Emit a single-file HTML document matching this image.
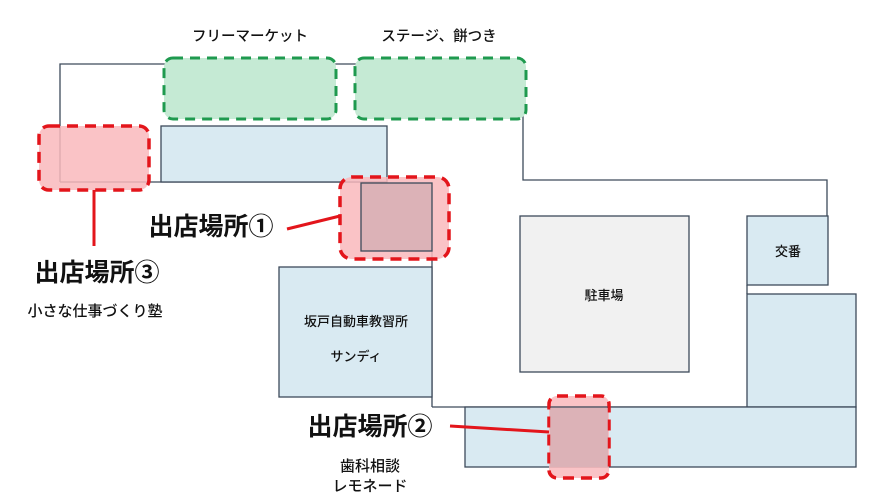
<!DOCTYPE html>
<html><head><meta charset="utf-8"><style>
html,body{margin:0;padding:0;background:#fff;width:889px;height:500px;overflow:hidden}
text{font-family:"Liberation Sans","Noto Sans CJK JP",sans-serif;fill:#111}
</style></head><body>
<svg width="889" height="500" viewBox="0 0 889 500" xmlns="http://www.w3.org/2000/svg">
<g stroke="#3d4a5a" stroke-width="1.3">
<polyline points="60,182 60,64 523,64 523,180 827,180 827,216" fill="none"/>
<line x1="60" y1="182" x2="387" y2="182"/>
<rect x="161" y="126" width="226" height="56" fill="#d9eaf2"/>
<line x1="432" y1="251" x2="432" y2="407"/>
<line x1="432" y1="407" x2="747" y2="407"/>
<line x1="747" y1="285" x2="747" y2="294"/>
<rect x="279" y="267" width="153" height="130" fill="#d9eaf2"/>
<rect x="520" y="216" width="169" height="156" fill="#f1f1f1"/>
<rect x="747" y="216" width="81" height="69" fill="#d9eaf2"/>
<rect x="747" y="294" width="109" height="113" fill="#d9eaf2"/>
<rect x="465" y="407" width="391" height="60" fill="#d9eaf2"/>
</g>
<g stroke="#1f9a4f" stroke-width="3" stroke-dasharray="10,7" fill="#c5ead4">
<rect x="164" y="58" width="172" height="61" rx="9"/>
<rect x="355" y="58" width="171" height="61" rx="9"/>
</g>
<g stroke="#e3151b" stroke-width="3.5" stroke-dasharray="11,7" fill="#f9b8bc" fill-opacity="0.85">
<rect x="39" y="126" width="110" height="64" rx="10"/>
<rect x="340" y="177" width="109" height="82" rx="12"/>
<rect x="549" y="396" width="60" height="82" rx="8"/>
</g>
<rect x="361" y="183" width="71" height="68" fill="#dcb2b7" stroke="#3d4a5a" stroke-width="1.3"/>
<rect x="550" y="408" width="58" height="59" fill="#dcb2b7" stroke="none"/>
<line x1="549" y1="407" x2="609" y2="407" stroke="#3d4a5a" stroke-width="1.3"/>
<g stroke="#e3151b" stroke-width="2.5" stroke-dasharray="11,7" fill="none">
<rect x="549" y="396" width="60" height="82" rx="8"/>
</g>
<g stroke="#e3151b" stroke-width="3">
<line x1="94" y1="190" x2="94" y2="246"/>
<line x1="287" y1="229" x2="340" y2="216"/>
<line x1="450" y1="426" x2="549" y2="432"/>
</g>
<g font-size="14.5" text-anchor="middle" font-weight="500">
<text x="250" y="41">フリーマーケット</text>
<text x="439" y="41">ステージ、餅つき</text>
</g>
<g font-size="25" font-weight="bold" text-anchor="middle">
<text x="211" y="235">出店場所①</text>
<text x="97" y="281">出店場所③</text>
<text x="370" y="435">出店場所②</text>
</g>
<g font-size="15" text-anchor="middle" font-weight="500">
<text x="95" y="316">小さな仕事づくり塾</text>
<text x="370" y="471">歯科相談</text>
<text x="370" y="491">レモネード</text>
</g>
<g font-size="13" text-anchor="middle" font-weight="500">
<text x="356" y="326">坂戸自動車教習所</text>
<text x="356" y="361">サンディ</text>
<text x="604" y="300">駐車場</text>
<text x="788" y="256">交番</text>
</g>
</svg>
</body></html>
